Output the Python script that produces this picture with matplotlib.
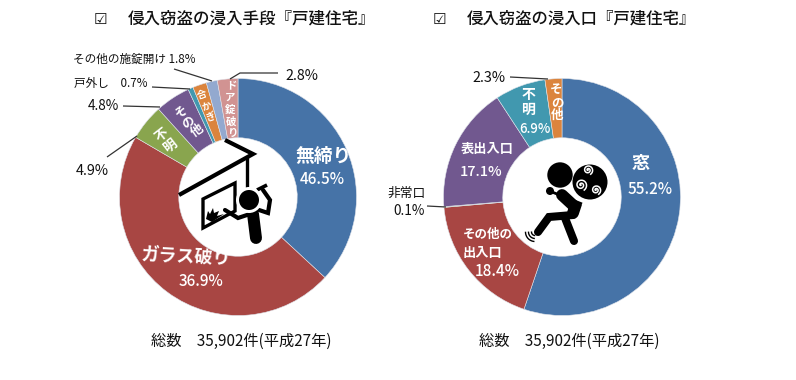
import numpy as np
import matplotlib
matplotlib.use("Agg")
import matplotlib.pyplot as plt
from matplotlib.patches import Circle, Polygon

plt.rcParams['font.family'] = ['Noto Sans CJK JP', 'DejaVu Sans']

W, H = 796, 380
# slice sizes as drawn in the picture (the blue slice is visibly the 36.9 one)
means_values = [36.9, 46.5, 4.9, 4.8, 0.7, 1.9, 1.5, 2.8]
means_colors = ['#4673A7', '#A84643', '#89A54E', '#71588F', '#4198AF', '#DB843D', '#93A9CF', '#D19392']
entry_values = [55.2, 18.4, 0.1, 17.1, 6.9, 2.3]
entry_colors = ['#4673A7', '#A84643', '#89A54E', '#71588F', '#4198AF', '#DB843D']
title_left = '侵入窃盗の浸入手段『戸建住宅』'
title_right = '侵入窃盗の浸入口『戸建住宅』'
total_text = '総数　35,902件(平成27年)'

fig = plt.figure(figsize=(W / 100, H / 100), dpi=100, facecolor='white')


def donut(cx, cy, r, values, colors):
    ax = fig.add_axes([(cx - r) / W, 1 - (cy + r) / H, 2 * r / W, 2 * r / H])
    ax.pie(values, colors=colors, startangle=90, counterclock=False, radius=1,
           wedgeprops=dict(width=0.5, edgecolor='#dfe3ea', linewidth=0.4))
    ax.set_xlim(-1, 1)
    ax.set_ylim(-1, 1)
    ax.set_aspect('equal')
    ax.axis('off')


donut(238, 197, 118.5, means_values, means_colors)
donut(562, 197, 118.5, entry_values, entry_colors)

ov = fig.add_axes([0, 0, 1, 1], facecolor='none')
ov.set_xlim(0, W)
ov.set_ylim(H, 0)
ov.axis('off')


def T(x, y, s, size=9, color='#111111', rot=0, weight='normal', ha='center'):
    ov.text(x, y, s, fontsize=size, color=color, rotation=rot, weight=weight, ha=ha,
            va='center', rotation_mode='anchor')


def L(xs, ys, lw=0.9, c='#333333', cap='butt'):
    ov.plot(xs, ys, color=c, lw=lw, solid_capstyle=cap, solid_joinstyle='miter')


# titles
T(100, 19, '☑', size=11, ha='center')
T(128, 19, title_left, size=11.9, ha='left', weight='medium')
T(439, 19, '☑', size=11, ha='center')
T(467, 19, title_right, size=11.8, ha='left', weight='medium')
T(241, 341, total_text, size=11)
T(569, 341, total_text, size=11)

# left labels (white on slices)
W_ = 'white'
T(324, 156, '無締り', size=13.5, color=W_, weight='bold')
T(322, 179, '46.5%', size=11, color=W_, weight='medium')
T(186, 258, 'ガラス破り', size=13, color=W_, weight='bold', rot=-3)
T(201, 281, '36.9%', size=11, color=W_, weight='medium')
T(162, 135, '不', size=9.5, color=W_, weight='bold', rot=38)
T(170, 146, '明', size=9.5, color=W_, weight='bold', rot=38)
T(181, 112, 'そ', size=9, color=W_, weight='bold', rot=35)
T(188, 122, 'の', size=9, color=W_, weight='bold', rot=35)
T(197, 131, '他', size=9, color=W_, weight='bold', rot=35)
for (x, y, s) in [(202, 95, '合'), (207, 107, 'か'), (211, 117, 'ぎ')]:
    T(x, y, s, size=7, color=W_, weight='bold', rot=20)
for (x, y, s) in [(231, 85, 'ド'), (230, 98, 'ア'), (230, 110, '錠'), (231, 122, '破'), (232, 133, 'り')]:
    T(x, y, s, size=7.5, color=W_, weight='bold')

# left outer labels
T(73, 59, 'その他の施錠開け 1.8%', size=8.4, ha='left')
T(74, 83, '戸外し　0.7%', size=8.4, ha='left')
T(88, 106, '4.8%', size=9.8, ha='left')
T(76, 171, '4.9%', size=10.4, ha='left')
T(285, 76, '2.8%', size=10.4, ha='left')
L([174, 212], [69, 81])
L([152, 190], [87, 89])
L([123, 160], [106, 107])
L([107, 137], [157, 136])
L([278, 240, 230], [73, 73, 79])

# right labels
T(641, 163, '窓', size=13, color=W_, weight='bold')
T(650, 189, '55.2%', size=11, color=W_, weight='medium')
T(488, 234, 'その他の', size=9, color=W_, weight='bold')
T(483, 253, '出入口', size=9.5, color=W_, weight='bold')
T(497, 272, '18.4%', size=11, color=W_, weight='medium')
T(487, 149, '表出入口', size=9.5, color=W_, weight='bold')
T(481, 172, '17.1%', size=10.5, color=W_, weight='medium')
T(528, 95, '不', size=10, color=W_, weight='bold')
T(528, 110, '明', size=10, color=W_, weight='bold')
T(535, 129, '6.9%', size=9.5, color=W_, weight='medium')
for (x, y, s) in [(556, 89, 'そ'), (557, 103, 'の'), (557, 115, '他')]:
    T(x, y, s, size=9, color=W_, weight='bold')
T(489, 78, '2.3%', size=10.4)
L([510, 548], [77, 79])
T(407, 193, '非常口', size=9.2)
T(409, 211, '0.1%', size=9.8)
L([427, 446], [206, 207])

# left icon: roof, window, burglar
K = '#000000'
L([179, 253, 225], [195, 154, 140], lw=3, c=K)
L([247, 247], [157, 188], lw=2.4, c=K)
ov.add_patch(Polygon([[203, 199], [235, 183], [235, 211], [203, 228]], closed=True, fc='white', ec=K, lw=2.4))
ov.add_patch(Polygon([[206, 219], [208, 211], [210, 214], [213, 208], [214, 213], [219, 211], [217, 216], [224, 214], [212, 222]],
                     closed=True, fc=K, ec='none'))
L([225, 238, 253], [210, 218, 213], lw=3, c=K, cap='round')
L([253, 256], [214, 238], lw=8.6, c=K, cap='round')
L([259, 268, 270, 263], [210, 213, 200, 190], lw=3, c=K, cap='round')
L([257, 267], [190, 185], lw=2.6, c=K)
ov.add_patch(Circle((249, 200), 13, fc='white', ec='none', zorder=3))
ov.add_patch(Circle((249, 200), 10, fc=K, ec='none', zorder=4))

# right icon: fleeing thief with a swag bag
ov.add_patch(Circle((590, 182), 17.5, fc=K, ec='none'))
ov.add_patch(Circle((560, 175), 12.7, fc=K, ec='none'))
for (x, y, r, turn) in [(588, 170, 5, 1), (581, 185, 6, 1), (596, 190, 5, 1)]:
    th = np.linspace(0, 4.0 * np.pi, 50)
    rr = r * th / th.max()
    ov.plot(x + rr * np.cos(th + 1), y + rr * np.sin(th + 1), color='white', lw=1.1)
ov.add_patch(Circle((550, 191), 4, fc=K, ec='none'))
L([552, 582], [192, 204], lw=2, c=K)
L([562, 575, 573], [195, 207, 213], lw=8.5, c=K, cap='round')
L([573, 549, 538], [215, 217, 232], lw=5.8, c=K, cap='round')
L([565, 574], [218, 241], lw=5.8, c=K, cap='round')
for (x0, y0, r) in [(535, 232, 3.5), (535, 232, 6.5), (535, 232, 9.5)]:
    a = np.linspace(1.7, 3.1, 12)
    ov.plot(x0 + r * np.cos(a), y0 + r * np.sin(a), color=K, lw=1)

fig.savefig('out.png', dpi=100)
